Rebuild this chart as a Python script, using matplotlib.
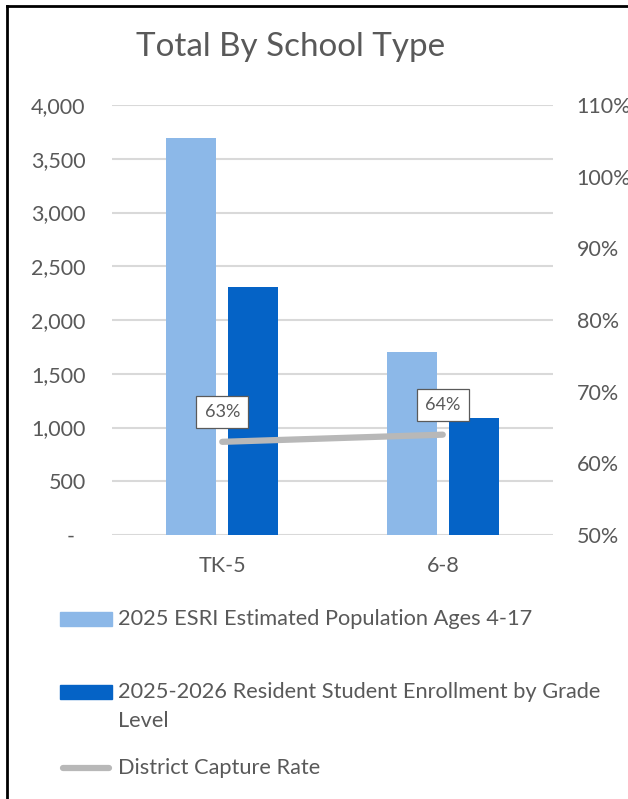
import matplotlib
matplotlib.use("Agg")
import matplotlib.pyplot as plt
from matplotlib.lines import Line2D
from matplotlib.patches import Rectangle
from matplotlib.ticker import FuncFormatter, MultipleLocator

plt.rcParams['font.family'] = ['Lato', 'DejaVu Sans']

# Data
categories = ["TK-5", "6-8"]
population = [3690, 1700]        # 2025 ESRI Estimated Population Ages 4-17
enrollment = [2310, 1085]        # 2025-2026 Resident Student Enrollment by Grade Level
capture_rate = [0.63, 0.64]      # District Capture Rate

series_names = [
    "2025 ESRI Estimated Population Ages 4-17",
    "2025-2026 Resident Student Enrollment by Grade\nLevel",
    "District Capture Rate",
]

LIGHT = "#8CB8E8"
DARK = "#0563C6"
GRAY_LINE = "#B8B8B8"
TEXT = "#595959"
GRID = "#D9D9D9"

W, H = 628, 799
fig = plt.figure(figsize=(W / 100, H / 100), dpi=100)

def fx(px):
    return px / W

def fy(py):
    return 1 - py / H

ax = fig.add_axes([fx(112), fy(535), fx(553) - fx(112), fy(105) - fy(535)])
ax2 = ax.twinx()

x = list(range(len(categories)))
bw = 0.227
off = 0.1406
ax.bar([i - off for i in x], population, width=bw, color=LIGHT, zorder=3)
ax.bar([i + off for i in x], enrollment, width=bw, color=DARK, zorder=3)

ax.set_xlim(-0.5, 1.5)
ax.set_ylim(0, 4000)
ax.yaxis.set_major_locator(MultipleLocator(500))
ax.yaxis.set_major_formatter(FuncFormatter(lambda v, p: "-  " if v == 0 else f"{v:,.0f}"))
ax.grid(axis="y", color=GRID, linewidth=1.5, zorder=0)
ax.set_axisbelow(True)
ax.set_xticks(x)
ax.set_xticklabels(categories)
ax.tick_params(axis="y", length=0, pad=19, labelsize=15.5, labelcolor=TEXT)
ax.tick_params(axis="x", length=0, pad=15, labelsize=15.5, labelcolor=TEXT)

ax2.plot(x, capture_rate, color=GRAY_LINE, linewidth=4.5, solid_capstyle="round", zorder=4)
ax2.set_ylim(0.5, 1.1)
ax2.yaxis.set_major_locator(MultipleLocator(0.1))
ax2.yaxis.set_major_formatter(FuncFormatter(lambda v, p: f"{v * 100:.0f}%"))
ax2.tick_params(axis="y", length=0, pad=17, labelsize=15.5, labelcolor=TEXT)

for xi, r in zip(x, capture_rate):
    ax2.annotate(f"{r * 100:.0f}%", (xi, r), xytext=(0, 21.5), textcoords="offset points",
                 ha="center", va="center", fontsize=13, color=TEXT, zorder=6,
                 bbox=dict(boxstyle="square,pad=0.45", fc="white", ec="#5A5A5A", lw=0.9))

for a in (ax, ax2):
    for s in a.spines.values():
        s.set_visible(False)

# Title
fig.text(fx(291), fy(47), "Total By School Type", ha="center", va="center",
         fontsize=23.9, color=TEXT)

# Legend
leg_x0, leg_x1, text_x = 60, 112, 118
rows = [619, 692, 768]
for i, yy in enumerate(rows):
    if i < 2:
        fig.add_artist(Rectangle((fx(leg_x0), fy(yy + 7)), fx(leg_x1) - fx(leg_x0), fy(yy - 7) - fy(yy + 7),
                                 transform=fig.transFigure, color=[LIGHT, DARK][i]))
    else:
        fig.add_artist(Line2D([fx(leg_x0 + 3), fx(leg_x1 - 3)], [fy(yy), fy(yy)], transform=fig.transFigure,
                              color=GRAY_LINE, linewidth=4.5, solid_capstyle="round"))

for yy, name in zip(rows, series_names):
    for j, ln in enumerate(name.split("\n")):
        fig.text(fx(text_x), fy(yy + 29 * j), ln, ha="left", va="center",
                 fontsize=15.7, color=TEXT)

# Outer frame (left and top edges)
fig.add_artist(Line2D([fx(7), fx(7)], [fy(6), 0], transform=fig.transFigure, color="black", linewidth=2))
fig.add_artist(Line2D([fx(7), 1], [fy(6), fy(6)], transform=fig.transFigure, color="black", linewidth=2))

fig.savefig("out.png", dpi=100)
